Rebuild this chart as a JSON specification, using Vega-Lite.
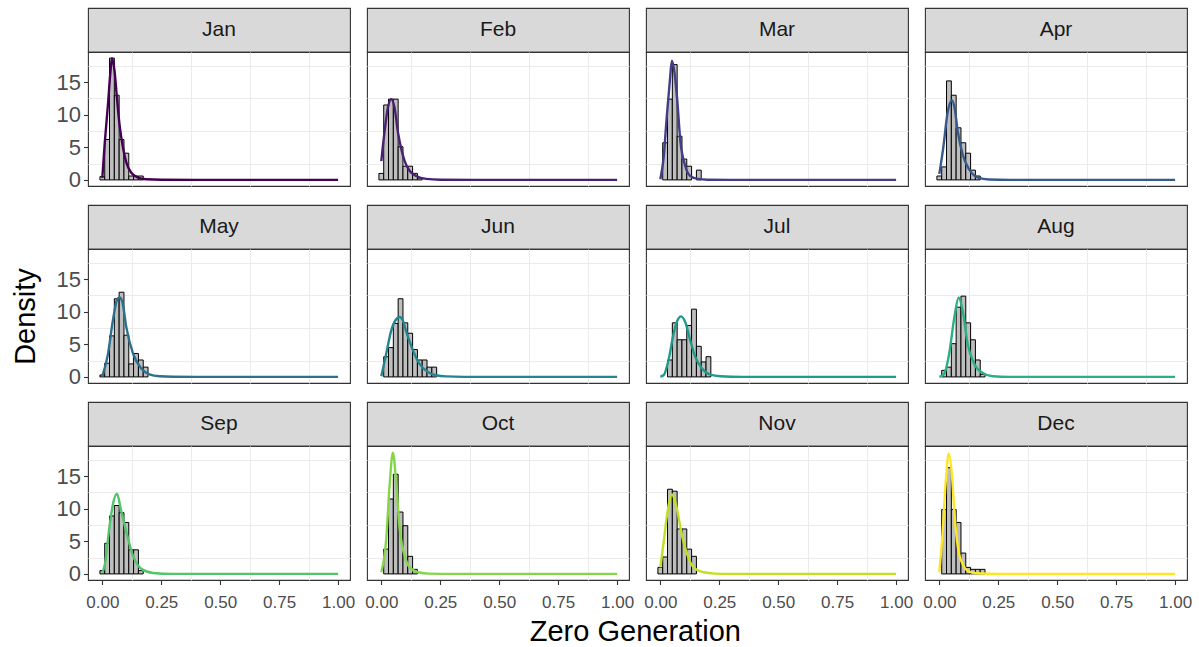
{
  "$schema": "https://vega.github.io/schema/vega-lite/v6.json",
  "background": "white",
  "padding": {"left": 10, "top": 7, "right": 4, "bottom": 4},
  "datasets": {
    "hist": [
      {"month": "Jan", "lo": -0.0102, "hi": 0.0102, "density": 0.5},
      {"month": "Jan", "lo": 0.0102, "hi": 0.0306, "density": 6.2},
      {"month": "Jan", "lo": 0.0306, "hi": 0.051, "density": 18.7},
      {"month": "Jan", "lo": 0.051, "hi": 0.0714, "density": 13.0},
      {"month": "Jan", "lo": 0.0714, "hi": 0.0918, "density": 6.2},
      {"month": "Jan", "lo": 0.0918, "hi": 0.1122, "density": 4.1},
      {"month": "Jan", "lo": 0.1122, "hi": 0.1327, "density": 0.6},
      {"month": "Jan", "lo": 0.1327, "hi": 0.1531, "density": 0.6},
      {"month": "Jan", "lo": 0.1531, "hi": 0.1735, "density": 0.6},

      {"month": "Feb", "lo": -0.0102, "hi": 0.0102, "density": 1.0},
      {"month": "Feb", "lo": 0.0102, "hi": 0.0306, "density": 11.5},
      {"month": "Feb", "lo": 0.0306, "hi": 0.051, "density": 12.4},
      {"month": "Feb", "lo": 0.051, "hi": 0.0714, "density": 12.4},
      {"month": "Feb", "lo": 0.0714, "hi": 0.0918, "density": 5.1},
      {"month": "Feb", "lo": 0.0918, "hi": 0.1122, "density": 2.1},
      {"month": "Feb", "lo": 0.1122, "hi": 0.1327, "density": 2.1},
      {"month": "Feb", "lo": 0.1327, "hi": 0.1531, "density": 1.0},
      {"month": "Feb", "lo": 0.1531, "hi": 0.1735, "density": 0.3},

      {"month": "Mar", "lo": 0.0102, "hi": 0.0306, "density": 5.7},
      {"month": "Mar", "lo": 0.0306, "hi": 0.051, "density": 12.4},
      {"month": "Mar", "lo": 0.051, "hi": 0.0714, "density": 17.7},
      {"month": "Mar", "lo": 0.0714, "hi": 0.0918, "density": 6.7},
      {"month": "Mar", "lo": 0.0918, "hi": 0.1122, "density": 3.2},
      {"month": "Mar", "lo": 0.1122, "hi": 0.1327, "density": 2.1},
      {"month": "Mar", "lo": 0.1531, "hi": 0.1735, "density": 1.5},

      {"month": "Apr", "lo": -0.0102, "hi": 0.0102, "density": 0.6},
      {"month": "Apr", "lo": 0.0102, "hi": 0.0306, "density": 2.0},
      {"month": "Apr", "lo": 0.0306, "hi": 0.051, "density": 15.2},
      {"month": "Apr", "lo": 0.051, "hi": 0.0714, "density": 13.0},
      {"month": "Apr", "lo": 0.0714, "hi": 0.0918, "density": 8.0},
      {"month": "Apr", "lo": 0.0918, "hi": 0.1122, "density": 5.7},
      {"month": "Apr", "lo": 0.1122, "hi": 0.1327, "density": 4.1},
      {"month": "Apr", "lo": 0.1327, "hi": 0.1531, "density": 1.5},
      {"month": "Apr", "lo": 0.1531, "hi": 0.1735, "density": 0.6},

      {"month": "May", "lo": -0.0102, "hi": 0.0102, "density": 0.3},
      {"month": "May", "lo": 0.0102, "hi": 0.0306, "density": 2.1},
      {"month": "May", "lo": 0.0306, "hi": 0.051, "density": 6.3},
      {"month": "May", "lo": 0.051, "hi": 0.0714, "density": 12.0},
      {"month": "May", "lo": 0.0714, "hi": 0.0918, "density": 13.0},
      {"month": "May", "lo": 0.0918, "hi": 0.1122, "density": 6.4},
      {"month": "May", "lo": 0.1122, "hi": 0.1327, "density": 2.0},
      {"month": "May", "lo": 0.1327, "hi": 0.1531, "density": 3.6},
      {"month": "May", "lo": 0.1531, "hi": 0.1735, "density": 2.6},
      {"month": "May", "lo": 0.1735, "hi": 0.1939, "density": 1.5},

      {"month": "Jun", "lo": 0.0102, "hi": 0.0306, "density": 3.1},
      {"month": "Jun", "lo": 0.0306, "hi": 0.051, "density": 4.5},
      {"month": "Jun", "lo": 0.051, "hi": 0.0714, "density": 8.2},
      {"month": "Jun", "lo": 0.0714, "hi": 0.0918, "density": 12.0},
      {"month": "Jun", "lo": 0.0918, "hi": 0.1122, "density": 8.3},
      {"month": "Jun", "lo": 0.1122, "hi": 0.1327, "density": 6.7},
      {"month": "Jun", "lo": 0.1327, "hi": 0.1531, "density": 4.2},
      {"month": "Jun", "lo": 0.1531, "hi": 0.1735, "density": 2.6},
      {"month": "Jun", "lo": 0.1735, "hi": 0.1939, "density": 2.6},
      {"month": "Jun", "lo": 0.1939, "hi": 0.2143, "density": 1.5},
      {"month": "Jun", "lo": 0.2143, "hi": 0.2347, "density": 1.5},

      {"month": "Jul", "lo": 0.0306, "hi": 0.051, "density": 2.6},
      {"month": "Jul", "lo": 0.051, "hi": 0.0714, "density": 8.3},
      {"month": "Jul", "lo": 0.0714, "hi": 0.0918, "density": 5.7},
      {"month": "Jul", "lo": 0.0918, "hi": 0.1122, "density": 5.7},
      {"month": "Jul", "lo": 0.1122, "hi": 0.1327, "density": 7.9},
      {"month": "Jul", "lo": 0.1327, "hi": 0.1531, "density": 10.4},
      {"month": "Jul", "lo": 0.1531, "hi": 0.1735, "density": 4.7},
      {"month": "Jul", "lo": 0.1735, "hi": 0.1939, "density": 2.3},
      {"month": "Jul", "lo": 0.1939, "hi": 0.2143, "density": 3.1},

      {"month": "Aug", "lo": 0.0102, "hi": 0.0306, "density": 1.0},
      {"month": "Aug", "lo": 0.0306, "hi": 0.051, "density": 1.5},
      {"month": "Aug", "lo": 0.051, "hi": 0.0714, "density": 5.1},
      {"month": "Aug", "lo": 0.0714, "hi": 0.0918, "density": 10.7},
      {"month": "Aug", "lo": 0.0918, "hi": 0.1122, "density": 12.4},
      {"month": "Aug", "lo": 0.1122, "hi": 0.1327, "density": 8.3},
      {"month": "Aug", "lo": 0.1327, "hi": 0.1531, "density": 5.7},
      {"month": "Aug", "lo": 0.1531, "hi": 0.1735, "density": 2.6},
      {"month": "Aug", "lo": 0.1735, "hi": 0.1939, "density": 0.4},

      {"month": "Sep", "lo": -0.0102, "hi": 0.0102, "density": 0.5},
      {"month": "Sep", "lo": 0.0102, "hi": 0.0306, "density": 4.7},
      {"month": "Sep", "lo": 0.0306, "hi": 0.051, "density": 8.9},
      {"month": "Sep", "lo": 0.051, "hi": 0.0714, "density": 10.5},
      {"month": "Sep", "lo": 0.0714, "hi": 0.0918, "density": 9.4},
      {"month": "Sep", "lo": 0.0918, "hi": 0.1122, "density": 7.9},
      {"month": "Sep", "lo": 0.1122, "hi": 0.1327, "density": 3.7},
      {"month": "Sep", "lo": 0.1327, "hi": 0.1531, "density": 3.7},
      {"month": "Sep", "lo": 0.1531, "hi": 0.1735, "density": 0.5},

      {"month": "Oct", "lo": 0.0102, "hi": 0.0306, "density": 3.8},
      {"month": "Oct", "lo": 0.0306, "hi": 0.051, "density": 11.5},
      {"month": "Oct", "lo": 0.051, "hi": 0.0714, "density": 15.3},
      {"month": "Oct", "lo": 0.0714, "hi": 0.0918, "density": 9.5},
      {"month": "Oct", "lo": 0.0918, "hi": 0.1122, "density": 7.4},
      {"month": "Oct", "lo": 0.1122, "hi": 0.1327, "density": 2.7},
      {"month": "Oct", "lo": 0.1327, "hi": 0.1531, "density": 0.7},

      {"month": "Nov", "lo": -0.0102, "hi": 0.0102, "density": 1.0},
      {"month": "Nov", "lo": 0.0102, "hi": 0.0306, "density": 2.6},
      {"month": "Nov", "lo": 0.0306, "hi": 0.051, "density": 13.0},
      {"month": "Nov", "lo": 0.051, "hi": 0.0714, "density": 12.7},
      {"month": "Nov", "lo": 0.0714, "hi": 0.0918, "density": 6.9},
      {"month": "Nov", "lo": 0.0918, "hi": 0.1122, "density": 6.9},
      {"month": "Nov", "lo": 0.1122, "hi": 0.1327, "density": 3.8},
      {"month": "Nov", "lo": 0.1327, "hi": 0.1531, "density": 2.7},

      {"month": "Dec", "lo": 0.0102, "hi": 0.0306, "density": 9.9},
      {"month": "Dec", "lo": 0.0306, "hi": 0.051, "density": 16.3},
      {"month": "Dec", "lo": 0.051, "hi": 0.0714, "density": 9.9},
      {"month": "Dec", "lo": 0.0714, "hi": 0.0918, "density": 7.9},
      {"month": "Dec", "lo": 0.0918, "hi": 0.1122, "density": 3.2},
      {"month": "Dec", "lo": 0.1122, "hi": 0.1327, "density": 1.0},
      {"month": "Dec", "lo": 0.1327, "hi": 0.1531, "density": 0.7},
      {"month": "Dec", "lo": 0.1531, "hi": 0.1735, "density": 0.7},
      {"month": "Dec", "lo": 0.1735, "hi": 0.1939, "density": 0.7}
    ],
    "dens": [
      {"month": "Jan", "x": 0, "density": 0.3}, {"month": "Jan", "x": 0.01, "density": 5.5}, {"month": "Jan", "x": 0.024, "density": 11.6}, {"month": "Jan", "x": 0.034, "density": 16.4}, {"month": "Jan", "x": 0.041, "density": 18.7}, {"month": "Jan", "x": 0.052, "density": 16.7}, {"month": "Jan", "x": 0.062, "density": 12.6}, {"month": "Jan", "x": 0.073, "density": 8.5}, {"month": "Jan", "x": 0.088, "density": 4.9}, {"month": "Jan", "x": 0.102, "density": 2.65}, {"month": "Jan", "x": 0.123, "density": 1.1}, {"month": "Jan", "x": 0.151, "density": 0.36}, {"month": "Jan", "x": 0.186, "density": 0.1}, {"month": "Jan", "x": 0.25, "density": 0.02}, {"month": "Jan", "x": 0.4, "density": 0}, {"month": "Jan", "x": 1, "density": 0},

      {"month": "Feb", "x": 0, "density": 2.9}, {"month": "Feb", "x": 0.014, "density": 7.5}, {"month": "Feb", "x": 0.028, "density": 11.1}, {"month": "Feb", "x": 0.042, "density": 12.4}, {"month": "Feb", "x": 0.056, "density": 11.1}, {"month": "Feb", "x": 0.071, "density": 7.2}, {"month": "Feb", "x": 0.085, "density": 4.7}, {"month": "Feb", "x": 0.099, "density": 2.9}, {"month": "Feb", "x": 0.12, "density": 1.4}, {"month": "Feb", "x": 0.148, "density": 0.6}, {"month": "Feb", "x": 0.19, "density": 0.15}, {"month": "Feb", "x": 0.25, "density": 0.03}, {"month": "Feb", "x": 0.4, "density": 0}, {"month": "Feb", "x": 1, "density": 0},

      {"month": "Mar", "x": 0, "density": 0.1}, {"month": "Mar", "x": 0.014, "density": 3.4}, {"month": "Mar", "x": 0.028, "density": 10}, {"month": "Mar", "x": 0.04, "density": 15}, {"month": "Mar", "x": 0.049, "density": 18.3}, {"month": "Mar", "x": 0.06, "density": 16.5}, {"month": "Mar", "x": 0.071, "density": 12.6}, {"month": "Mar", "x": 0.085, "density": 6}, {"month": "Mar", "x": 0.106, "density": 2.1}, {"month": "Mar", "x": 0.127, "density": 0.6}, {"month": "Mar", "x": 0.16, "density": 0.15}, {"month": "Mar", "x": 0.2, "density": 0.03}, {"month": "Mar", "x": 0.3, "density": 0}, {"month": "Mar", "x": 1, "density": 0},

      {"month": "Apr", "x": 0, "density": 0.9}, {"month": "Apr", "x": 0.017, "density": 5}, {"month": "Apr", "x": 0.035, "density": 10.3}, {"month": "Apr", "x": 0.054, "density": 12.2}, {"month": "Apr", "x": 0.065, "density": 11}, {"month": "Apr", "x": 0.078, "density": 7.5}, {"month": "Apr", "x": 0.099, "density": 3.9}, {"month": "Apr", "x": 0.127, "density": 1.6}, {"month": "Apr", "x": 0.165, "density": 0.35}, {"month": "Apr", "x": 0.21, "density": 0.07}, {"month": "Apr", "x": 0.3, "density": 0}, {"month": "Apr", "x": 1, "density": 0},

      {"month": "May", "x": 0, "density": 0.1}, {"month": "May", "x": 0.024, "density": 3.5}, {"month": "May", "x": 0.045, "density": 8.7}, {"month": "May", "x": 0.062, "density": 11.8}, {"month": "May", "x": 0.073, "density": 12.2}, {"month": "May", "x": 0.085, "density": 11.5}, {"month": "May", "x": 0.102, "density": 7.6}, {"month": "May", "x": 0.13, "density": 3.6}, {"month": "May", "x": 0.165, "density": 1.3}, {"month": "May", "x": 0.2, "density": 0.4}, {"month": "May", "x": 0.243, "density": 0.1}, {"month": "May", "x": 0.3, "density": 0.02}, {"month": "May", "x": 0.4, "density": 0}, {"month": "May", "x": 1, "density": 0},

      {"month": "Jun", "x": 0, "density": 0.1}, {"month": "Jun", "x": 0.021, "density": 3.6}, {"month": "Jun", "x": 0.042, "density": 7.1}, {"month": "Jun", "x": 0.06, "density": 8.7}, {"month": "Jun", "x": 0.078, "density": 9.2}, {"month": "Jun", "x": 0.092, "density": 8.6}, {"month": "Jun", "x": 0.106, "density": 6.9}, {"month": "Jun", "x": 0.134, "density": 4.1}, {"month": "Jun", "x": 0.162, "density": 2.0}, {"month": "Jun", "x": 0.198, "density": 0.77}, {"month": "Jun", "x": 0.233, "density": 0.25}, {"month": "Jun", "x": 0.275, "density": 0.08}, {"month": "Jun", "x": 0.35, "density": 0.01}, {"month": "Jun", "x": 0.5, "density": 0}, {"month": "Jun", "x": 1, "density": 0},

      {"month": "Jul", "x": 0, "density": 0.05}, {"month": "Jul", "x": 0.014, "density": 0.25}, {"month": "Jul", "x": 0.035, "density": 2.6}, {"month": "Jul", "x": 0.056, "density": 6.6}, {"month": "Jul", "x": 0.073, "density": 8.7}, {"month": "Jul", "x": 0.088, "density": 9.3}, {"month": "Jul", "x": 0.106, "density": 8.4}, {"month": "Jul", "x": 0.127, "density": 5.6}, {"month": "Jul", "x": 0.148, "density": 3.1}, {"month": "Jul", "x": 0.177, "density": 1.3}, {"month": "Jul", "x": 0.212, "density": 0.35}, {"month": "Jul", "x": 0.255, "density": 0.1}, {"month": "Jul", "x": 0.35, "density": 0.01}, {"month": "Jul", "x": 0.5, "density": 0}, {"month": "Jul", "x": 1, "density": 0},

      {"month": "Aug", "x": 0, "density": 0}, {"month": "Aug", "x": 0.021, "density": 0.5}, {"month": "Aug", "x": 0.042, "density": 3.6}, {"month": "Aug", "x": 0.064, "density": 9.2}, {"month": "Aug", "x": 0.082, "density": 12.2}, {"month": "Aug", "x": 0.099, "density": 10.2}, {"month": "Aug", "x": 0.12, "density": 5.1}, {"month": "Aug", "x": 0.148, "density": 2.0}, {"month": "Aug", "x": 0.184, "density": 0.6}, {"month": "Aug", "x": 0.226, "density": 0.1}, {"month": "Aug", "x": 0.3, "density": 0.01}, {"month": "Aug", "x": 0.4, "density": 0}, {"month": "Aug", "x": 1, "density": 0},

      {"month": "Sep", "x": 0, "density": 0.2}, {"month": "Sep", "x": 0.01, "density": 1.3}, {"month": "Sep", "x": 0.031, "density": 7.4}, {"month": "Sep", "x": 0.045, "density": 10.7}, {"month": "Sep", "x": 0.062, "density": 12.3}, {"month": "Sep", "x": 0.08, "density": 9.7}, {"month": "Sep", "x": 0.102, "density": 6.4}, {"month": "Sep", "x": 0.13, "density": 2.8}, {"month": "Sep", "x": 0.165, "density": 0.8}, {"month": "Sep", "x": 0.215, "density": 0.15}, {"month": "Sep", "x": 0.3, "density": 0.01}, {"month": "Sep", "x": 0.4, "density": 0}, {"month": "Sep", "x": 1, "density": 0},

      {"month": "Oct", "x": 0, "density": 0.25}, {"month": "Oct", "x": 0.021, "density": 5.4}, {"month": "Oct", "x": 0.035, "density": 13.5}, {"month": "Oct", "x": 0.049, "density": 18.6}, {"month": "Oct", "x": 0.064, "density": 13.5}, {"month": "Oct", "x": 0.078, "density": 6.9}, {"month": "Oct", "x": 0.099, "density": 2.8}, {"month": "Oct", "x": 0.12, "density": 1.0}, {"month": "Oct", "x": 0.155, "density": 0.25}, {"month": "Oct", "x": 0.2, "density": 0.05}, {"month": "Oct", "x": 0.3, "density": 0}, {"month": "Oct", "x": 1, "density": 0},

      {"month": "Nov", "x": 0, "density": 1.0}, {"month": "Nov", "x": 0.014, "density": 4.8}, {"month": "Nov", "x": 0.028, "density": 8.9}, {"month": "Nov", "x": 0.049, "density": 12.2}, {"month": "Nov", "x": 0.071, "density": 9.9}, {"month": "Nov", "x": 0.092, "density": 5.9}, {"month": "Nov", "x": 0.113, "density": 3.1}, {"month": "Nov", "x": 0.141, "density": 1.0}, {"month": "Nov", "x": 0.184, "density": 0.25}, {"month": "Nov", "x": 0.23, "density": 0.05}, {"month": "Nov", "x": 0.3, "density": 0}, {"month": "Nov", "x": 1, "density": 0},

      {"month": "Dec", "x": 0, "density": 0.25}, {"month": "Dec", "x": 0.014, "density": 6.4}, {"month": "Dec", "x": 0.028, "density": 14.5}, {"month": "Dec", "x": 0.04, "density": 18.5}, {"month": "Dec", "x": 0.055, "density": 14.5}, {"month": "Dec", "x": 0.064, "density": 9.4}, {"month": "Dec", "x": 0.078, "density": 4.3}, {"month": "Dec", "x": 0.099, "density": 1.5}, {"month": "Dec", "x": 0.127, "density": 0.35}, {"month": "Dec", "x": 0.16, "density": 0.1}, {"month": "Dec", "x": 0.25, "density": 0}, {"month": "Dec", "x": 1, "density": 0}
    ]
  },
  "title": {"text": "Zero Generation", "orient": "bottom", "anchor": "middle", "dx": 34, "fontSize": 29, "fontWeight": "normal", "color": "black", "offset": 7},
  "columns": 4,
  "align": "each",
  "spacing": {"row": 12, "column": 8},
  "concat": [
    {"vconcat": [
      {"width": 262, "height": 44, "data": {"values": [{"month": "Jan"}]}, "mark": {"type": "text", "fontSize": 21, "color": "#1a1a1a"}, "encoding": {"text": {"field": "month"}}, "view": {"fill": "#d9d9d9", "stroke": "#333333", "strokeWidth": 1.1}},
      {"width": 262, "height": 134, "layer": [
        {"data": {"name": "hist"}, "transform": [{"filter": "datum.month === 'Jan'"}], "mark": {"type": "rect", "fill": "#bebebe", "stroke": "black", "strokeWidth": 1},
         "encoding": {"x": {"field": "lo", "type": "quantitative", "scale": {"domain": [-0.0607, 1.0505], "nice": false, "zero": false}, "axis": {"orient": "top", "values": [0.125, 0.375, 0.625, 0.875], "gridWidth": 1, "labels": false, "ticks": false, "title": null}}, "x2": {"field": "hi"}, "y": {"field": "density", "type": "quantitative", "scale": {"domain": [-0.935, 19.635], "nice": false, "zero": false}, "axis": {"orient": "right", "values": [2.5, 7.5, 12.5, 17.5], "gridWidth": 1, "labels": false, "ticks": false, "title": null}}, "y2": {"datum": 0}}},
        {"data": {"name": "dens"}, "transform": [{"filter": "datum.month === 'Jan'"}], "mark": {"type": "line", "color": "#440154", "strokeWidth": 2.4, "interpolate": "monotone"},
         "encoding": {"x": {"field": "x", "type": "quantitative", "axis": {"values": [0, 0.25, 0.5, 0.75, 1], "format": ".2f", "labels": false, "ticks": false, "title": null}}, "y": {"field": "density", "type": "quantitative", "axis": {"values": [0, 5, 10, 15], "labels": true, "ticks": true, "title": " ", "titlePadding": 16}}}}
      ], "resolve": {"axis": {"x": "independent", "y": "independent"}}}
    ], "spacing": 0, "bounds": "flush"},
    {"vconcat": [
      {"width": 262, "height": 44, "data": {"values": [{"month": "Feb"}]}, "mark": {"type": "text", "fontSize": 21, "color": "#1a1a1a"}, "encoding": {"text": {"field": "month"}}, "view": {"fill": "#d9d9d9", "stroke": "#333333", "strokeWidth": 1.1}},
      {"width": 262, "height": 134, "layer": [
        {"data": {"name": "hist"}, "transform": [{"filter": "datum.month === 'Feb'"}], "mark": {"type": "rect", "fill": "#bebebe", "stroke": "black", "strokeWidth": 1},
         "encoding": {"x": {"field": "lo", "type": "quantitative", "scale": {"domain": [-0.0607, 1.0505], "nice": false, "zero": false}, "axis": {"orient": "top", "values": [0.125, 0.375, 0.625, 0.875], "gridWidth": 1, "labels": false, "ticks": false, "title": null}}, "x2": {"field": "hi"}, "y": {"field": "density", "type": "quantitative", "scale": {"domain": [-0.935, 19.635], "nice": false, "zero": false}, "axis": {"orient": "right", "values": [2.5, 7.5, 12.5, 17.5], "gridWidth": 1, "labels": false, "ticks": false, "title": null}}, "y2": {"datum": 0}}},
        {"data": {"name": "dens"}, "transform": [{"filter": "datum.month === 'Feb'"}], "mark": {"type": "line", "color": "#482173", "strokeWidth": 2.4, "interpolate": "monotone"},
         "encoding": {"x": {"field": "x", "type": "quantitative", "axis": {"values": [0, 0.25, 0.5, 0.75, 1], "format": ".2f", "labels": false, "ticks": false, "title": null}}, "y": {"field": "density", "type": "quantitative", "axis": {"values": [0, 5, 10, 15], "labels": false, "ticks": false, "title": null}}}}
      ], "resolve": {"axis": {"x": "independent", "y": "independent"}}}
    ], "spacing": 0, "bounds": "flush"},
    {"vconcat": [
      {"width": 262, "height": 44, "data": {"values": [{"month": "Mar"}]}, "mark": {"type": "text", "fontSize": 21, "color": "#1a1a1a"}, "encoding": {"text": {"field": "month"}}, "view": {"fill": "#d9d9d9", "stroke": "#333333", "strokeWidth": 1.1}},
      {"width": 262, "height": 134, "layer": [
        {"data": {"name": "hist"}, "transform": [{"filter": "datum.month === 'Mar'"}], "mark": {"type": "rect", "fill": "#bebebe", "stroke": "black", "strokeWidth": 1},
         "encoding": {"x": {"field": "lo", "type": "quantitative", "scale": {"domain": [-0.0607, 1.0505], "nice": false, "zero": false}, "axis": {"orient": "top", "values": [0.125, 0.375, 0.625, 0.875], "gridWidth": 1, "labels": false, "ticks": false, "title": null}}, "x2": {"field": "hi"}, "y": {"field": "density", "type": "quantitative", "scale": {"domain": [-0.935, 19.635], "nice": false, "zero": false}, "axis": {"orient": "right", "values": [2.5, 7.5, 12.5, 17.5], "gridWidth": 1, "labels": false, "ticks": false, "title": null}}, "y2": {"datum": 0}}},
        {"data": {"name": "dens"}, "transform": [{"filter": "datum.month === 'Mar'"}], "mark": {"type": "line", "color": "#433E85", "strokeWidth": 2.4, "interpolate": "monotone"},
         "encoding": {"x": {"field": "x", "type": "quantitative", "axis": {"values": [0, 0.25, 0.5, 0.75, 1], "format": ".2f", "labels": false, "ticks": false, "title": null}}, "y": {"field": "density", "type": "quantitative", "axis": {"values": [0, 5, 10, 15], "labels": false, "ticks": false, "title": null}}}}
      ], "resolve": {"axis": {"x": "independent", "y": "independent"}}}
    ], "spacing": 0, "bounds": "flush"},
    {"vconcat": [
      {"width": 262, "height": 44, "data": {"values": [{"month": "Apr"}]}, "mark": {"type": "text", "fontSize": 21, "color": "#1a1a1a"}, "encoding": {"text": {"field": "month"}}, "view": {"fill": "#d9d9d9", "stroke": "#333333", "strokeWidth": 1.1}},
      {"width": 262, "height": 134, "layer": [
        {"data": {"name": "hist"}, "transform": [{"filter": "datum.month === 'Apr'"}], "mark": {"type": "rect", "fill": "#bebebe", "stroke": "black", "strokeWidth": 1},
         "encoding": {"x": {"field": "lo", "type": "quantitative", "scale": {"domain": [-0.0607, 1.0505], "nice": false, "zero": false}, "axis": {"orient": "top", "values": [0.125, 0.375, 0.625, 0.875], "gridWidth": 1, "labels": false, "ticks": false, "title": null}}, "x2": {"field": "hi"}, "y": {"field": "density", "type": "quantitative", "scale": {"domain": [-0.935, 19.635], "nice": false, "zero": false}, "axis": {"orient": "right", "values": [2.5, 7.5, 12.5, 17.5], "gridWidth": 1, "labels": false, "ticks": false, "title": null}}, "y2": {"datum": 0}}},
        {"data": {"name": "dens"}, "transform": [{"filter": "datum.month === 'Apr'"}], "mark": {"type": "line", "color": "#38598C", "strokeWidth": 2.4, "interpolate": "monotone"},
         "encoding": {"x": {"field": "x", "type": "quantitative", "axis": {"values": [0, 0.25, 0.5, 0.75, 1], "format": ".2f", "labels": false, "ticks": false, "title": null}}, "y": {"field": "density", "type": "quantitative", "axis": {"values": [0, 5, 10, 15], "labels": false, "ticks": false, "title": null}}}}
      ], "resolve": {"axis": {"x": "independent", "y": "independent"}}}
    ], "spacing": 0, "bounds": "flush"},
    {"vconcat": [
      {"width": 262, "height": 44, "data": {"values": [{"month": "May"}]}, "mark": {"type": "text", "fontSize": 21, "color": "#1a1a1a"}, "encoding": {"text": {"field": "month"}}, "view": {"fill": "#d9d9d9", "stroke": "#333333", "strokeWidth": 1.1}},
      {"width": 262, "height": 134, "layer": [
        {"data": {"name": "hist"}, "transform": [{"filter": "datum.month === 'May'"}], "mark": {"type": "rect", "fill": "#bebebe", "stroke": "black", "strokeWidth": 1},
         "encoding": {"x": {"field": "lo", "type": "quantitative", "scale": {"domain": [-0.0607, 1.0505], "nice": false, "zero": false}, "axis": {"orient": "top", "values": [0.125, 0.375, 0.625, 0.875], "gridWidth": 1, "labels": false, "ticks": false, "title": null}}, "x2": {"field": "hi"}, "y": {"field": "density", "type": "quantitative", "scale": {"domain": [-0.935, 19.635], "nice": false, "zero": false}, "axis": {"orient": "right", "values": [2.5, 7.5, 12.5, 17.5], "gridWidth": 1, "labels": false, "ticks": false, "title": null}}, "y2": {"datum": 0}}},
        {"data": {"name": "dens"}, "transform": [{"filter": "datum.month === 'May'"}], "mark": {"type": "line", "color": "#2D708E", "strokeWidth": 2.4, "interpolate": "monotone"},
         "encoding": {"x": {"field": "x", "type": "quantitative", "axis": {"values": [0, 0.25, 0.5, 0.75, 1], "format": ".2f", "labels": false, "ticks": false, "title": null}}, "y": {"field": "density", "type": "quantitative", "axis": {"values": [0, 5, 10, 15], "labels": true, "ticks": true, "title": "Density", "titlePadding": 16}}}}
      ], "resolve": {"axis": {"x": "independent", "y": "independent"}}}
    ], "spacing": 0, "bounds": "flush"},
    {"vconcat": [
      {"width": 262, "height": 44, "data": {"values": [{"month": "Jun"}]}, "mark": {"type": "text", "fontSize": 21, "color": "#1a1a1a"}, "encoding": {"text": {"field": "month"}}, "view": {"fill": "#d9d9d9", "stroke": "#333333", "strokeWidth": 1.1}},
      {"width": 262, "height": 134, "layer": [
        {"data": {"name": "hist"}, "transform": [{"filter": "datum.month === 'Jun'"}], "mark": {"type": "rect", "fill": "#bebebe", "stroke": "black", "strokeWidth": 1},
         "encoding": {"x": {"field": "lo", "type": "quantitative", "scale": {"domain": [-0.0607, 1.0505], "nice": false, "zero": false}, "axis": {"orient": "top", "values": [0.125, 0.375, 0.625, 0.875], "gridWidth": 1, "labels": false, "ticks": false, "title": null}}, "x2": {"field": "hi"}, "y": {"field": "density", "type": "quantitative", "scale": {"domain": [-0.935, 19.635], "nice": false, "zero": false}, "axis": {"orient": "right", "values": [2.5, 7.5, 12.5, 17.5], "gridWidth": 1, "labels": false, "ticks": false, "title": null}}, "y2": {"datum": 0}}},
        {"data": {"name": "dens"}, "transform": [{"filter": "datum.month === 'Jun'"}], "mark": {"type": "line", "color": "#25858E", "strokeWidth": 2.4, "interpolate": "monotone"},
         "encoding": {"x": {"field": "x", "type": "quantitative", "axis": {"values": [0, 0.25, 0.5, 0.75, 1], "format": ".2f", "labels": false, "ticks": false, "title": null}}, "y": {"field": "density", "type": "quantitative", "axis": {"values": [0, 5, 10, 15], "labels": false, "ticks": false, "title": null}}}}
      ], "resolve": {"axis": {"x": "independent", "y": "independent"}}}
    ], "spacing": 0, "bounds": "flush"},
    {"vconcat": [
      {"width": 262, "height": 44, "data": {"values": [{"month": "Jul"}]}, "mark": {"type": "text", "fontSize": 21, "color": "#1a1a1a"}, "encoding": {"text": {"field": "month"}}, "view": {"fill": "#d9d9d9", "stroke": "#333333", "strokeWidth": 1.1}},
      {"width": 262, "height": 134, "layer": [
        {"data": {"name": "hist"}, "transform": [{"filter": "datum.month === 'Jul'"}], "mark": {"type": "rect", "fill": "#bebebe", "stroke": "black", "strokeWidth": 1},
         "encoding": {"x": {"field": "lo", "type": "quantitative", "scale": {"domain": [-0.0607, 1.0505], "nice": false, "zero": false}, "axis": {"orient": "top", "values": [0.125, 0.375, 0.625, 0.875], "gridWidth": 1, "labels": false, "ticks": false, "title": null}}, "x2": {"field": "hi"}, "y": {"field": "density", "type": "quantitative", "scale": {"domain": [-0.935, 19.635], "nice": false, "zero": false}, "axis": {"orient": "right", "values": [2.5, 7.5, 12.5, 17.5], "gridWidth": 1, "labels": false, "ticks": false, "title": null}}, "y2": {"datum": 0}}},
        {"data": {"name": "dens"}, "transform": [{"filter": "datum.month === 'Jul'"}], "mark": {"type": "line", "color": "#1E9B8A", "strokeWidth": 2.4, "interpolate": "monotone"},
         "encoding": {"x": {"field": "x", "type": "quantitative", "axis": {"values": [0, 0.25, 0.5, 0.75, 1], "format": ".2f", "labels": false, "ticks": false, "title": null}}, "y": {"field": "density", "type": "quantitative", "axis": {"values": [0, 5, 10, 15], "labels": false, "ticks": false, "title": null}}}}
      ], "resolve": {"axis": {"x": "independent", "y": "independent"}}}
    ], "spacing": 0, "bounds": "flush"},
    {"vconcat": [
      {"width": 262, "height": 44, "data": {"values": [{"month": "Aug"}]}, "mark": {"type": "text", "fontSize": 21, "color": "#1a1a1a"}, "encoding": {"text": {"field": "month"}}, "view": {"fill": "#d9d9d9", "stroke": "#333333", "strokeWidth": 1.1}},
      {"width": 262, "height": 134, "layer": [
        {"data": {"name": "hist"}, "transform": [{"filter": "datum.month === 'Aug'"}], "mark": {"type": "rect", "fill": "#bebebe", "stroke": "black", "strokeWidth": 1},
         "encoding": {"x": {"field": "lo", "type": "quantitative", "scale": {"domain": [-0.0607, 1.0505], "nice": false, "zero": false}, "axis": {"orient": "top", "values": [0.125, 0.375, 0.625, 0.875], "gridWidth": 1, "labels": false, "ticks": false, "title": null}}, "x2": {"field": "hi"}, "y": {"field": "density", "type": "quantitative", "scale": {"domain": [-0.935, 19.635], "nice": false, "zero": false}, "axis": {"orient": "right", "values": [2.5, 7.5, 12.5, 17.5], "gridWidth": 1, "labels": false, "ticks": false, "title": null}}, "y2": {"datum": 0}}},
        {"data": {"name": "dens"}, "transform": [{"filter": "datum.month === 'Aug'"}], "mark": {"type": "line", "color": "#2BB07F", "strokeWidth": 2.4, "interpolate": "monotone"},
         "encoding": {"x": {"field": "x", "type": "quantitative", "axis": {"values": [0, 0.25, 0.5, 0.75, 1], "format": ".2f", "labels": false, "ticks": false, "title": null}}, "y": {"field": "density", "type": "quantitative", "axis": {"values": [0, 5, 10, 15], "labels": false, "ticks": false, "title": null}}}}
      ], "resolve": {"axis": {"x": "independent", "y": "independent"}}}
    ], "spacing": 0, "bounds": "flush"},
    {"vconcat": [
      {"width": 262, "height": 44, "data": {"values": [{"month": "Sep"}]}, "mark": {"type": "text", "fontSize": 21, "color": "#1a1a1a"}, "encoding": {"text": {"field": "month"}}, "view": {"fill": "#d9d9d9", "stroke": "#333333", "strokeWidth": 1.1}},
      {"width": 262, "height": 134, "layer": [
        {"data": {"name": "hist"}, "transform": [{"filter": "datum.month === 'Sep'"}], "mark": {"type": "rect", "fill": "#bebebe", "stroke": "black", "strokeWidth": 1},
         "encoding": {"x": {"field": "lo", "type": "quantitative", "scale": {"domain": [-0.0607, 1.0505], "nice": false, "zero": false}, "axis": {"orient": "top", "values": [0.125, 0.375, 0.625, 0.875], "gridWidth": 1, "labels": false, "ticks": false, "title": null}}, "x2": {"field": "hi"}, "y": {"field": "density", "type": "quantitative", "scale": {"domain": [-0.935, 19.635], "nice": false, "zero": false}, "axis": {"orient": "right", "values": [2.5, 7.5, 12.5, 17.5], "gridWidth": 1, "labels": false, "ticks": false, "title": null}}, "y2": {"datum": 0}}},
        {"data": {"name": "dens"}, "transform": [{"filter": "datum.month === 'Sep'"}], "mark": {"type": "line", "color": "#51C56A", "strokeWidth": 2.4, "interpolate": "monotone"},
         "encoding": {"x": {"field": "x", "type": "quantitative", "axis": {"values": [0, 0.25, 0.5, 0.75, 1], "format": ".2f", "labels": true, "ticks": true, "title": null}}, "y": {"field": "density", "type": "quantitative", "axis": {"values": [0, 5, 10, 15], "labels": true, "ticks": true, "title": " ", "titlePadding": 16}}}}
      ], "resolve": {"axis": {"x": "independent", "y": "independent"}}}
    ], "spacing": 0, "bounds": "flush"},
    {"vconcat": [
      {"width": 262, "height": 44, "data": {"values": [{"month": "Oct"}]}, "mark": {"type": "text", "fontSize": 21, "color": "#1a1a1a"}, "encoding": {"text": {"field": "month"}}, "view": {"fill": "#d9d9d9", "stroke": "#333333", "strokeWidth": 1.1}},
      {"width": 262, "height": 134, "layer": [
        {"data": {"name": "hist"}, "transform": [{"filter": "datum.month === 'Oct'"}], "mark": {"type": "rect", "fill": "#bebebe", "stroke": "black", "strokeWidth": 1},
         "encoding": {"x": {"field": "lo", "type": "quantitative", "scale": {"domain": [-0.0607, 1.0505], "nice": false, "zero": false}, "axis": {"orient": "top", "values": [0.125, 0.375, 0.625, 0.875], "gridWidth": 1, "labels": false, "ticks": false, "title": null}}, "x2": {"field": "hi"}, "y": {"field": "density", "type": "quantitative", "scale": {"domain": [-0.935, 19.635], "nice": false, "zero": false}, "axis": {"orient": "right", "values": [2.5, 7.5, 12.5, 17.5], "gridWidth": 1, "labels": false, "ticks": false, "title": null}}, "y2": {"datum": 0}}},
        {"data": {"name": "dens"}, "transform": [{"filter": "datum.month === 'Oct'"}], "mark": {"type": "line", "color": "#85D54A", "strokeWidth": 2.4, "interpolate": "monotone"},
         "encoding": {"x": {"field": "x", "type": "quantitative", "axis": {"values": [0, 0.25, 0.5, 0.75, 1], "format": ".2f", "labels": true, "ticks": true, "title": null}}, "y": {"field": "density", "type": "quantitative", "axis": {"values": [0, 5, 10, 15], "labels": false, "ticks": false, "title": null}}}}
      ], "resolve": {"axis": {"x": "independent", "y": "independent"}}}
    ], "spacing": 0, "bounds": "flush"},
    {"vconcat": [
      {"width": 262, "height": 44, "data": {"values": [{"month": "Nov"}]}, "mark": {"type": "text", "fontSize": 21, "color": "#1a1a1a"}, "encoding": {"text": {"field": "month"}}, "view": {"fill": "#d9d9d9", "stroke": "#333333", "strokeWidth": 1.1}},
      {"width": 262, "height": 134, "layer": [
        {"data": {"name": "hist"}, "transform": [{"filter": "datum.month === 'Nov'"}], "mark": {"type": "rect", "fill": "#bebebe", "stroke": "black", "strokeWidth": 1},
         "encoding": {"x": {"field": "lo", "type": "quantitative", "scale": {"domain": [-0.0607, 1.0505], "nice": false, "zero": false}, "axis": {"orient": "top", "values": [0.125, 0.375, 0.625, 0.875], "gridWidth": 1, "labels": false, "ticks": false, "title": null}}, "x2": {"field": "hi"}, "y": {"field": "density", "type": "quantitative", "scale": {"domain": [-0.935, 19.635], "nice": false, "zero": false}, "axis": {"orient": "right", "values": [2.5, 7.5, 12.5, 17.5], "gridWidth": 1, "labels": false, "ticks": false, "title": null}}, "y2": {"datum": 0}}},
        {"data": {"name": "dens"}, "transform": [{"filter": "datum.month === 'Nov'"}], "mark": {"type": "line", "color": "#C2DF23", "strokeWidth": 2.4, "interpolate": "monotone"},
         "encoding": {"x": {"field": "x", "type": "quantitative", "axis": {"values": [0, 0.25, 0.5, 0.75, 1], "format": ".2f", "labels": true, "ticks": true, "title": null}}, "y": {"field": "density", "type": "quantitative", "axis": {"values": [0, 5, 10, 15], "labels": false, "ticks": false, "title": null}}}}
      ], "resolve": {"axis": {"x": "independent", "y": "independent"}}}
    ], "spacing": 0, "bounds": "flush"},
    {"vconcat": [
      {"width": 262, "height": 44, "data": {"values": [{"month": "Dec"}]}, "mark": {"type": "text", "fontSize": 21, "color": "#1a1a1a"}, "encoding": {"text": {"field": "month"}}, "view": {"fill": "#d9d9d9", "stroke": "#333333", "strokeWidth": 1.1}},
      {"width": 262, "height": 134, "layer": [
        {"data": {"name": "hist"}, "transform": [{"filter": "datum.month === 'Dec'"}], "mark": {"type": "rect", "fill": "#bebebe", "stroke": "black", "strokeWidth": 1},
         "encoding": {"x": {"field": "lo", "type": "quantitative", "scale": {"domain": [-0.0607, 1.0505], "nice": false, "zero": false}, "axis": {"orient": "top", "values": [0.125, 0.375, 0.625, 0.875], "gridWidth": 1, "labels": false, "ticks": false, "title": null}}, "x2": {"field": "hi"}, "y": {"field": "density", "type": "quantitative", "scale": {"domain": [-0.935, 19.635], "nice": false, "zero": false}, "axis": {"orient": "right", "values": [2.5, 7.5, 12.5, 17.5], "gridWidth": 1, "labels": false, "ticks": false, "title": null}}, "y2": {"datum": 0}}},
        {"data": {"name": "dens"}, "transform": [{"filter": "datum.month === 'Dec'"}], "mark": {"type": "line", "color": "#FDE725", "strokeWidth": 2.4, "interpolate": "monotone"},
         "encoding": {"x": {"field": "x", "type": "quantitative", "axis": {"values": [0, 0.25, 0.5, 0.75, 1], "format": ".2f", "labels": true, "ticks": true, "title": null}}, "y": {"field": "density", "type": "quantitative", "axis": {"values": [0, 5, 10, 15], "labels": false, "ticks": false, "title": null}}}}
      ], "resolve": {"axis": {"x": "independent", "y": "independent"}}}
    ], "spacing": 0, "bounds": "flush"}
  ],
  "config": {
    "font": "Liberation Sans",
    "view": {"stroke": "#333333", "strokeWidth": 1.1},
    "axis": {"domain": false, "minExtent": 0, "gridColor": "#ebebeb", "gridWidth": 2, "tickColor": "#333333", "tickSize": 4.5, "tickWidth": 1.1, "labelColor": "#4d4d4d", "titleColor": "black", "titleFontWeight": "normal", "titleFontSize": 29},
    "axisX": {"labelFontSize": 17, "labelPadding": 10, "minExtent": 0},
    "axisY": {"labelFontSize": 22, "labelPadding": 3, "minExtent": 0}
  }
}
